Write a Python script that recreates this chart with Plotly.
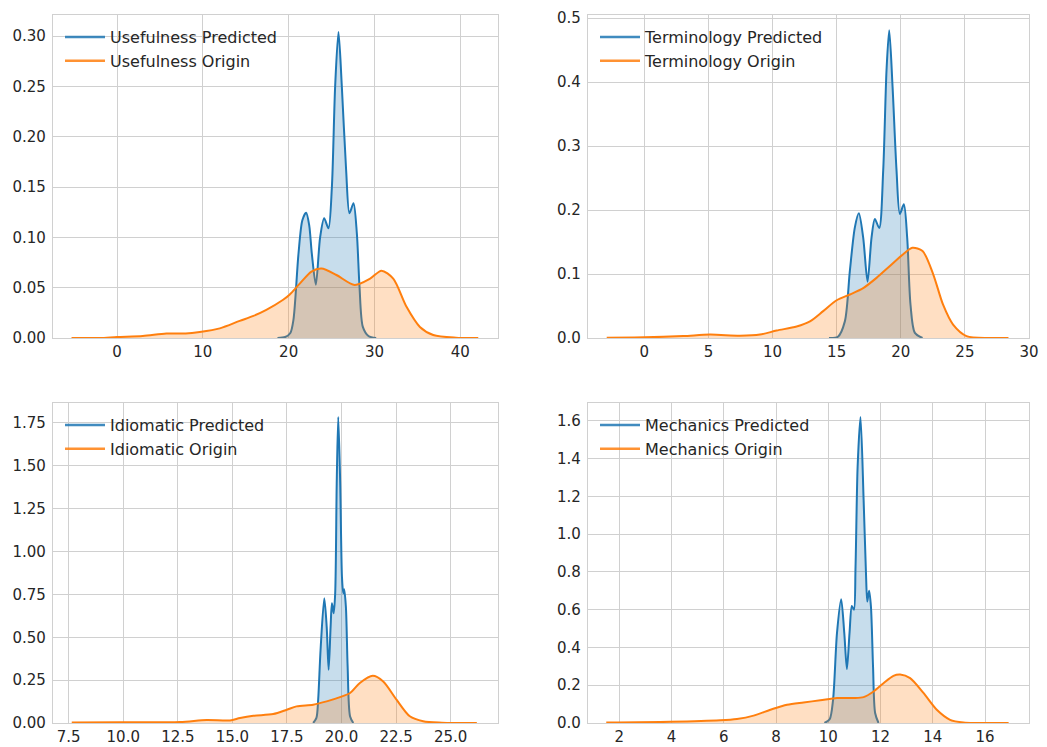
import plotly.graph_objects as go

# ---- Usefulness (density curves read as x / density pairs) ----
usefulness_pred_x = [18.7, 19.6, 20.2, 20.56, 21.15, 21.6, 22.04, 22.4, 22.7, 23.17, 23.67, 24.14,
                     24.64, 25.04, 25.42, 25.81, 26.2, 26.7, 27.09, 27.56, 27.95, 28.26, 28.65, 29.3, 30.2]
usefulness_pred_y = [0, 0.001, 0.005, 0.018, 0.084, 0.117, 0.1245, 0.112, 0.084, 0.053, 0.10, 0.119,
                     0.109, 0.150, 0.250, 0.304, 0.250, 0.167, 0.124, 0.134, 0.104, 0.051, 0.011, 0.002, 0]
usefulness_orig_x = [-5.3, -2, 0, 3, 5.75, 8, 9.64, 11.98, 14.3, 15.9, 17.4, 19.36, 20.1, 21.3, 22.66,
                     23.83, 25.57, 27.7, 29.5, 30.82, 32.19, 33.74, 35.3, 36.85, 39.5, 42.1]
usefulness_orig_y = [0, 0, 0.001, 0.002, 0.0045, 0.0045, 0.006, 0.0096, 0.017, 0.022, 0.028, 0.038, 0.043,
                     0.054, 0.066, 0.069, 0.0626, 0.0527, 0.059, 0.0669, 0.059, 0.031, 0.011, 0.003, 0.0003, 0]

# ---- Terminology ----
terminology_pred_x = [14.4, 15.1, 15.64, 16.03, 16.42, 16.73, 17.07, 17.41, 17.72, 17.98, 18.32, 18.63,
                      18.89, 19.1, 19.36, 19.67, 19.93, 20.24, 20.5, 20.76, 21.1, 21.7]
terminology_pred_y = [0, 0.002, 0.026, 0.105, 0.173, 0.195, 0.157, 0.088, 0.157, 0.186, 0.172, 0.262,
                      0.419, 0.481, 0.393, 0.262, 0.194, 0.209, 0.157, 0.052, 0.008, 0]
terminology_orig_x = [-2.93, 0, 3.04, 5.12, 7.46, 9.02, 10.32, 11.88, 12.92, 13.95, 15.0, 16.03, 17.07,
                      18.11, 19.15, 20.19, 20.9, 21.7, 22.53, 23.3, 24.08, 25.13, 26.9, 28.4]
terminology_orig_y = [0.0005, 0.001, 0.003, 0.0053, 0.0037, 0.0053, 0.0116, 0.018, 0.026, 0.042, 0.059,
                      0.068, 0.078, 0.094, 0.1126, 0.131, 0.141, 0.136, 0.0996, 0.052, 0.021, 0.003, 0.0, 0]

# ---- Idiomatic ----
idiomatic_pred_x = [18.7, 18.85, 18.93, 19.04, 19.21, 19.32, 19.41, 19.5, 19.56, 19.64, 19.71, 19.78,
                    19.85, 19.94, 20.02, 20.08, 20.12, 20.2, 20.28, 20.39, 20.54]
idiomatic_pred_y = [0, 0.03, 0.136, 0.427, 0.727, 0.562, 0.31, 0.562, 0.698, 0.64, 0.757, 1.397,
                    1.785, 1.397, 0.853, 0.757, 0.78, 0.679, 0.33, 0.04, 0]
idiomatic_orig_x = [7.64, 9.85, 12.6, 13.82, 14.89, 15.35, 15.96, 16.87, 17.49, 17.94, 18.7, 19.32,
                    19.93, 20.39, 20.84, 21.43, 21.91, 22.52, 23.13, 23.74, 24.6, 26.2]
idiomatic_orig_y = [0.003, 0.004, 0.006, 0.018, 0.015, 0.029, 0.042, 0.052, 0.077, 0.097, 0.107, 0.126,
                    0.151, 0.175, 0.233, 0.275, 0.242, 0.136, 0.039, 0.01, 0.002, 0]

# ---- Mechanics ----
mechanics_pred_x = [9.85, 10.05, 10.18, 10.33, 10.49, 10.61, 10.71, 10.81, 10.9, 10.98, 11.04, 11.12,
                    11.23, 11.35, 11.44, 11.49, 11.56, 11.63, 11.71, 11.79, 11.92]
mechanics_pred_y = [0, 0.02, 0.123, 0.476, 0.656, 0.476, 0.286, 0.476, 0.62, 0.60, 0.828, 1.357,
                    1.621, 1.18, 0.793, 0.643, 0.701, 0.617, 0.30, 0.053, 0]
mechanics_orig_x = [1.5, 3.95, 5.86, 6.5, 7.14, 7.78, 8.42, 9.05, 9.69, 10.33, 10.96, 11.35, 11.73,
                    12.11, 12.49, 12.75, 13.13, 13.64, 14.15, 14.66, 15.17, 16.9]
mechanics_orig_y = [0.002, 0.006, 0.014, 0.021, 0.039, 0.07, 0.097, 0.109, 0.12, 0.132, 0.132, 0.137,
                    0.167, 0.211, 0.25, 0.257, 0.238, 0.159, 0.07, 0.017, 0.003, 0]

# ---- tick labels per panel ----
usefulness_xticks = [0, 10, 20, 30, 40]
usefulness_yticks = [0.00, 0.05, 0.10, 0.15, 0.20, 0.25, 0.30]
terminology_xticks = [0, 5, 10, 15, 20, 25, 30]
terminology_yticks = [0.0, 0.1, 0.2, 0.3, 0.4, 0.5]
idiomatic_xticks = [7.5, 10.0, 12.5, 15.0, 17.5, 20.0, 22.5, 25.0]
idiomatic_yticks = [0.00, 0.25, 0.50, 0.75, 1.00, 1.25, 1.50, 1.75]
mechanics_xticks = [2, 4, 6, 8, 10, 12, 14, 16]
mechanics_yticks = [0.0, 0.2, 0.4, 0.6, 0.8, 1.0, 1.2, 1.4, 1.6]

BLUE = "#1f77b4"
ORANGE = "#ff7f0e"
BLUE_FILL = "rgba(31,119,180,0.25)"
ORANGE_FILL = "rgba(255,127,14,0.25)"
TEXT = "#262626"
GRID = "#d0d0d0"
FONT = "DejaVu Sans"

W, H = 1047, 747

panels = [
    dict(name="Usefulness", px=usefulness_pred_x, py=usefulness_pred_y,
         ox=usefulness_orig_x, oy=usefulness_orig_y,
         xt=usefulness_xticks, yt=usefulness_yticks, xfmt="d", yfmt=".2f",
         xr=[-7.46, 44.4], yr=[0, 0.321], box=(53, 498, 15, 338)),
    dict(name="Terminology", px=terminology_pred_x, py=terminology_pred_y,
         ox=terminology_orig_x, oy=terminology_orig_y,
         xt=terminology_xticks, yt=terminology_yticks, xfmt="d", yfmt=".1f",
         xr=[-4.39, 30.0], yr=[0, 0.505], box=(588, 1029, 15, 338)),
    dict(name="Idiomatic", px=idiomatic_pred_x, py=idiomatic_pred_y,
         ox=idiomatic_orig_x, oy=idiomatic_orig_y,
         xt=idiomatic_xticks, yt=idiomatic_yticks, xfmt=".1f", yfmt=".2f",
         xr=[6.78, 27.17], yr=[0, 1.866], box=(53, 498, 403, 723)),
    dict(name="Mechanics", px=mechanics_pred_x, py=mechanics_pred_y,
         ox=mechanics_orig_x, oy=mechanics_orig_y,
         xt=mechanics_xticks, yt=mechanics_yticks, xfmt="d", yfmt=".1f",
         xr=[0.80, 17.68], yr=[0, 1.695], box=(588, 1029, 403, 723)),
]

fig = go.Figure()
layout = {}

for i, p in enumerate(panels, start=1):
    sfx = "" if i == 1 else str(i)
    xa, ya = "x" + sfx, "y" + sfx
    leg = "legend" + sfx
    left, right, top, bottom = p["box"]

    # filled density areas (kept out of the legend)
    fig.add_trace(go.Scatter(x=p["px"], y=p["py"], xaxis=xa, yaxis=ya, mode="lines",
                             line=dict(color=BLUE, width=2, shape="spline", smoothing=0.8),
                             fill="tozeroy", fillcolor=BLUE_FILL, showlegend=False,
                             hoverinfo="skip"))
    fig.add_trace(go.Scatter(x=p["ox"], y=p["oy"], xaxis=xa, yaxis=ya, mode="lines",
                             line=dict(color=ORANGE, width=2, shape="spline", smoothing=0.8),
                             fill="tozeroy", fillcolor=ORANGE_FILL, showlegend=False,
                             hoverinfo="skip"))
    # legend entries drawn as plain lines
    fig.add_trace(go.Scatter(x=[None], y=[None], xaxis=xa, yaxis=ya, mode="lines",
                             line=dict(color=BLUE, width=2.5), opacity=0.85,
                             name=p["name"] + " Predicted", legend=leg))
    fig.add_trace(go.Scatter(x=[None], y=[None], xaxis=xa, yaxis=ya, mode="lines",
                             line=dict(color=ORANGE, width=2.5), opacity=0.85,
                             name=p["name"] + " Origin", legend=leg))

    axis_common = dict(showgrid=True, gridcolor=GRID, gridwidth=1, zeroline=False,
                       showline=True, mirror=True, linecolor=GRID, linewidth=1.25,
                       automargin=False, ticks="",
                       tickfont=dict(family=FONT, size=15, color=TEXT))
    layout["xaxis" + sfx] = dict(axis_common, domain=[left / W, right / W], range=p["xr"],
                                 anchor=ya, tickmode="array", tickvals=p["xt"],
                                 tickformat=p["xfmt"], ticklabelstandoff=0)
    layout["yaxis" + sfx] = dict(axis_common, domain=[1 - bottom / H, 1 - top / H], range=p["yr"],
                                 anchor=xa, tickmode="array", tickvals=p["yt"],
                                 tickformat=p["yfmt"], ticklabelstandoff=3)
    layout[leg] = dict(x=(left + 7) / W, y=1 - (top + 5) / H, xanchor="left", yanchor="top",
                       bgcolor="rgba(0,0,0,0)", borderwidth=0, itemwidth=40,
                       font=dict(family=FONT, size=16, color=TEXT), tracegroupgap=0)

fig.update_layout(**layout)
fig.update_layout(width=W, height=H, margin=dict(l=0, r=0, t=0, b=0, autoexpand=False),
                  paper_bgcolor="white", plot_bgcolor="white",
                  font=dict(family=FONT, size=15, color=TEXT))

fig.write_html("out.html")
